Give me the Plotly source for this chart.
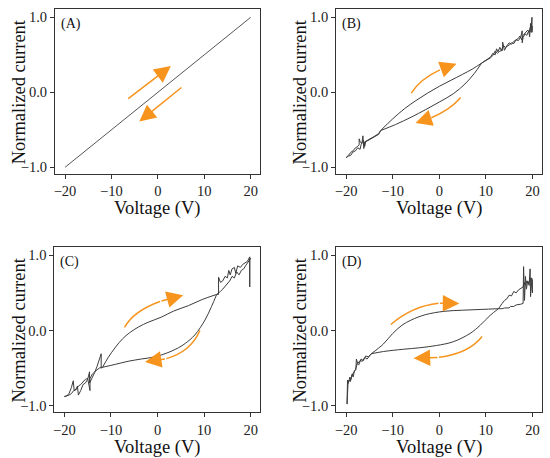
# hysteresis loops, four panels (A)-(D), normalized current vs voltage

import numpy as np
import plotly.graph_objects as go

# (A) linear resistor
a_v = [-20, 20]
a_i = [-1.0, 1.0]

# (B) smooth part of the loop
b_up_v = [-12.6, -10.1, -7.5, -5.0, -2.5, 0.0, 2.5, 5.0, 7.1, 9.1]
b_up_i = [-0.51, -0.36, -0.22, -0.11, -0.01, 0.08, 0.16, 0.24, 0.31, 0.39]
b_dn_v = [9.1, 7.5, 5.5, 3.0, 0.0, -2.9, -6.0, -9.4, -12.6]
b_dn_i = [0.39, 0.25, 0.11, -0.02, -0.13, -0.23, -0.33, -0.43, -0.51]
# (B) noisy ends
b_left_v = [-12.6, -13, -14, -15, -15.5, -16, -16.2, -16.4, -16.6, -17, -17.2, -17.2, -17.5, -18, -18.5, -19, -19.5, -20,
            -19.5, -19, -18.6, -18, -17.5, -17, -16.8, -16.3, -16, -15.8, -15, -14, -13, -12.6]
b_left_i = [-0.51, -0.55, -0.59, -0.62, -0.64, -0.66, -0.75, -0.58, -0.68, -0.66, -0.62, -0.70, -0.72, -0.74, -0.78, -0.80, -0.84, -0.87,
            -0.85, -0.84, -0.80, -0.78, -0.74, -0.76, -0.70, -0.64, -0.72, -0.66, -0.63, -0.60, -0.56, -0.51]
b_right_v = [9.1, 10, 11, 11.5, 12, 12.3, 12.6, 13, 13.3, 13.8, 14.2, 15, 15.5, 16, 16.5, 17, 17.5, 17.8, 17.8, 18, 18.4, 18.8,
             19.2, 19.4, 19.6, 19.7, 19.9, 19.9, 20,
             19.5, 19.3, 19, 18.5, 18, 17.7, 17.3, 17, 16.5, 16, 15.5, 15, 14.5, 14, 13.6, 13.6, 13, 12.5, 12, 11.5, 11, 10, 9.1]
b_right_i = [0.39, 0.43, 0.47, 0.52, 0.50, 0.58, 0.54, 0.60, 0.56, 0.62, 0.60, 0.63, 0.66, 0.65, 0.70, 0.69, 0.74, 0.82, 0.66, 0.73, 0.78, 0.76,
             0.82, 0.74, 0.92, 0.80, 1.00, 0.80, 0.88,
             0.86, 0.80, 0.83, 0.80, 0.76, 0.70, 0.75, 0.72, 0.70, 0.68, 0.64, 0.66, 0.62, 0.56, 0.67, 0.56, 0.55, 0.52, 0.55, 0.49, 0.46, 0.42, 0.39]

# (C)
c_up_v = [-11.8, -10.6, -9.0, -7.5, -6.0, -4.0, -2.0, 0.9, 3.5, 6.6, 9.5, 12.7]
c_up_i = [-0.49, -0.36, -0.22, -0.11, -0.03, 0.05, 0.11, 0.18, 0.26, 0.33, 0.41, 0.48]
c_dn_v = [12.7, 11.6, 10.2, 8.0, 6.0, 4.5, 2.0, -0.5, -3.5, -6.3, -9.0, -11.8]
c_dn_i = [0.48, 0.32, 0.14, -0.06, -0.17, -0.23, -0.30, -0.35, -0.38, -0.41, -0.45, -0.49]
c_left_v = [-11.8, -12.1, -12.1, -12.5, -13, -13.5, -14, -14.6, -14.6, -15, -15.5, -16, -16.5, -17, -17.2, -17.5, -17.9, -18.1, -18.5, -19, -19.5, -20,
            -19.5, -19, -18.5, -18, -17.5, -17, -16.5, -16, -15.5, -15, -14.5, -14.5, -14, -13.5, -13, -12.5, -11.8]
c_left_i = [-0.49, -0.50, -0.31, -0.40, -0.48, -0.56, -0.62, -0.70, -0.55, -0.65, -0.70, -0.72, -0.80, -0.86, -0.74, -0.78, -0.80, -0.67, -0.76, -0.84, -0.87, -0.88,
            -0.88, -0.86, -0.84, -0.80, -0.79, -0.74, -0.72, -0.68, -0.65, -0.64, -0.80, -0.64, -0.58, -0.55, -0.52, -0.50, -0.49]
c_right_v = [12.7, 13.1, 13.1, 13.5, 14, 14.5, 15, 15.3, 15.6, 16, 16.5, 16.8, 17.2, 17.8, 18.3, 18.8, 19.3, 19.8, 19.8, 19.8, 20,
             19.5, 19, 18.5, 18, 17.5, 17, 16.5, 16, 15.5, 15, 14.5, 14, 13.5, 12.7]
c_right_i = [0.48, 0.48, 0.71, 0.64, 0.66, 0.72, 0.70, 0.80, 0.74, 0.82, 0.84, 0.76, 0.86, 0.84, 0.88, 0.90, 0.92, 0.98, 0.58, 0.95, 0.96,
             0.92, 0.87, 0.82, 0.80, 0.74, 0.78, 0.70, 0.72, 0.66, 0.62, 0.58, 0.55, 0.52, 0.48]

# (D)
d_up_v = [-14.6, -12, -10, -8, -6, -3, 1, 5, 9, 12.7]
d_up_i = [-0.31, -0.18, -0.04, 0.07, 0.14, 0.21, 0.255, 0.27, 0.28, 0.29]
d_dn_v = [12.7, 10.9, 8.8, 6.6, 3, -0.6, -4.2, -7.7, -12, -14.6]
d_dn_i = [0.29, 0.20, 0.07, -0.04, -0.15, -0.20, -0.23, -0.25, -0.28, -0.31]
d_left_v = [-14.6, -15, -15.5, -16, -16.5, -17, -17.5, -17.8, -17.9, -18.2, -18.5, -18.7, -19, -19.2, -19.5, -19.7, -19.8,
            -19.8, -19.6, -19.4, -19.1, -18.8, -18.4, -18, -17.6, -17.3, -16.8, -16.3, -15.8, -15.2, -14.6]
d_left_i = [-0.31, -0.34, -0.38, -0.36, -0.41, -0.40, -0.44, -0.38, -0.52, -0.54, -0.62, -0.58, -0.66, -0.62, -0.70, -0.66, -0.95,
            -0.98, -0.72, -0.66, -0.68, -0.60, -0.56, -0.52, -0.44, -0.46, -0.38, -0.40, -0.34, -0.35, -0.31]
d_right_v = [12.7, 13.5, 14, 15, 15.3, 16, 16.5, 17, 17.5, 18, 18.1, 18.3, 18.5, 18.7, 19, 19.3, 19.5, 19.6, 19.8, 20,
             20, 19.8, 19.5, 19.2, 18.8, 18.5, 18.2, 18, 17.5, 17, 16.5, 16, 15.5, 15, 14.5, 14, 13.5, 13, 12.7]
d_right_i = [0.29, 0.29, 0.30, 0.30, 0.32, 0.32, 0.34, 0.34, 0.35, 0.36, 0.85, 0.40, 0.72, 0.55, 0.66, 0.60, 0.82, 0.45, 0.70, 0.68,
             0.50, 0.62, 0.70, 0.62, 0.66, 0.60, 0.64, 0.58, 0.56, 0.54, 0.50, 0.52, 0.46, 0.47, 0.42, 0.40, 0.36, 0.32, 0.29]

panel_labels = ['(A)', '(B)', '(C)', '(D)']
x_title = 'Voltage (V)'
y_title = 'Normalized current'
x_ticks = [-20, -10, 0, 10, 20]
y_ticks = [-1.0, 0.0, 1.0]

# arrows: straight ones in (A) as (tail, tip); curved ones as (start, middle, tip)
arrows_a = [((-6.7, -0.10), (2.8, 0.35)), ((5.4, 0.08), (-4.0, -0.39))]
arrows_b = [((-6.0, -0.01), (-2.2, 0.22), (3.7, 0.38)), ((4.6, -0.07), (0.6, -0.27), (-5.1, -0.41))]
arrows_c = [((-7.1, 0.04), (-2.6, 0.30), (5.5, 0.47)), ((9.1, 0.0), (4.8, -0.30), (-2.7, -0.42))]
arrows_d = [((-10.4, 0.08), (-3.5, 0.32), (4.3, 0.36)), ((9.2, -0.08), (3.5, -0.31), (-5.5, -0.37))]

orange = '#F7941D'
curve_col = '#3c3c3c'
frame_col = '#333333'
serif = 'Liberation Serif'

xdoms = [[0.100, 0.4727], [0.611, 0.985], [0.0988, 0.4727], [0.611, 0.985]]
ydoms = [[0.6201, 0.9797], [0.6201, 0.9797], [0.0998, 0.460], [0.0998, 0.460]]
# where the axis titles sit (paper coords)
ytitle_x = [0.034, 0.545, 0.034, 0.545]
xtitle_y = [0.545, 0.545, 0.022, 0.022]

segments = {
    1: [(a_v, a_i, 'linear')],
    2: [(b_up_v, b_up_i, 'spline'), (b_dn_v, b_dn_i, 'spline'), (b_left_v, b_left_i, 'linear'), (b_right_v, b_right_i, 'linear')],
    3: [(c_up_v, c_up_i, 'spline'), (c_dn_v, c_dn_i, 'spline'), (c_left_v, c_left_i, 'linear'), (c_right_v, c_right_i, 'linear')],
    4: [(d_up_v, d_up_i, 'spline'), (d_dn_v, d_dn_i, 'spline'), (d_left_v, d_left_i, 'linear'), (d_right_v, d_right_i, 'linear')],
}

fig = go.Figure()
for n in range(1, 5):
    sfx = '' if n == 1 else str(n)
    for v, i, shp in segments[n]:
        fig.add_trace(go.Scatter(x=v, y=i, mode='lines', xaxis='x' + sfx, yaxis='y' + sfx,
                                 line=dict(color='#555555' if n == 1 else curve_col, width=1, shape=shp)))
    ax_common = dict(showline=True, mirror=True, linecolor=frame_col, linewidth=1,
                     ticks='outside', ticklen=4, tickcolor=frame_col, showgrid=False, zeroline=False,
                     tickfont=dict(family=serif, size=14.5, color='#222'))
    fig.layout['xaxis' + sfx] = dict(ax_common, domain=xdoms[n - 1], anchor='y' + sfx, range=[-22.16, 22.0],
                                     tickvals=x_ticks)
    fig.layout['yaxis' + sfx] = dict(ax_common, domain=ydoms[n - 1], anchor='x' + sfx, range=[-1.089, 1.107],
                                     tickvals=y_ticks, tickformat='.1f')
    fig.add_annotation(text=panel_labels[n - 1], xref='x' + sfx + ' domain', yref='y' + sfx + ' domain',
                       x=0.02, y=0.97, xanchor='left', yanchor='top', showarrow=False,
                       font=dict(family=serif, size=14, color='#111'))
    xd, yd = xdoms[n - 1], ydoms[n - 1]
    fig.add_annotation(text=x_title, xref='paper', yref='paper', x=(xd[0] + xd[1]) / 2, y=xtitle_y[n - 1],
                       xanchor='center', yanchor='middle', showarrow=False,
                       font=dict(family=serif, size=18.5, color='#111'))
    fig.add_annotation(text=y_title, xref='paper', yref='paper', x=ytitle_x[n - 1], y=(yd[0] + yd[1]) / 2,
                       xanchor='center', yanchor='middle', showarrow=False, textangle=-90,
                       font=dict(family=serif, size=18.5, color='#111'))


def head(xr, yr, tail, tip):
    fig.add_annotation(x=tip[0], y=tip[1], ax=tail[0], ay=tail[1], xref=xr, yref=yr, axref=xr, ayref=yr,
                       text='', showarrow=True, arrowhead=2, arrowsize=2.2, arrowwidth=1.5, arrowcolor=orange)


for tail, tip in arrows_a:
    head('x', 'y', tail, tip)

for n, arrs in [(2, arrows_b), (3, arrows_c), (4, arrows_d)]:
    xr, yr = 'x%d' % n, 'y%d' % n
    for p0, pm, p2 in arrs:
        p0, pm, p2 = np.array(p0), np.array(pm), np.array(p2)
        c = 2 * pm - (p0 + p2) / 2
        t1 = 0.72
        c1 = p0 + (c - p0) * t1
        b1 = (1 - t1) ** 2 * p0 + 2 * (1 - t1) * t1 * c + t1 ** 2 * p2
        fig.add_shape(type='path', xref=xr, yref=yr,
                      path='M %f,%f Q %f,%f %f,%f' % (p0[0], p0[1], c1[0], c1[1], b1[0], b1[1]),
                      line=dict(color=orange, width=1.5))
        head(xr, yr, b1, p2)

fig.update_layout(width=550, height=458, showlegend=False,
                  margin={'l': 0, 'r': 0, 'b': 0, 't': 0},
                  paper_bgcolor='white', plot_bgcolor='white')

fig.write_html("out.html", config={'displayModeBar': False},
               post_script="document.body.style.margin='0px';")
